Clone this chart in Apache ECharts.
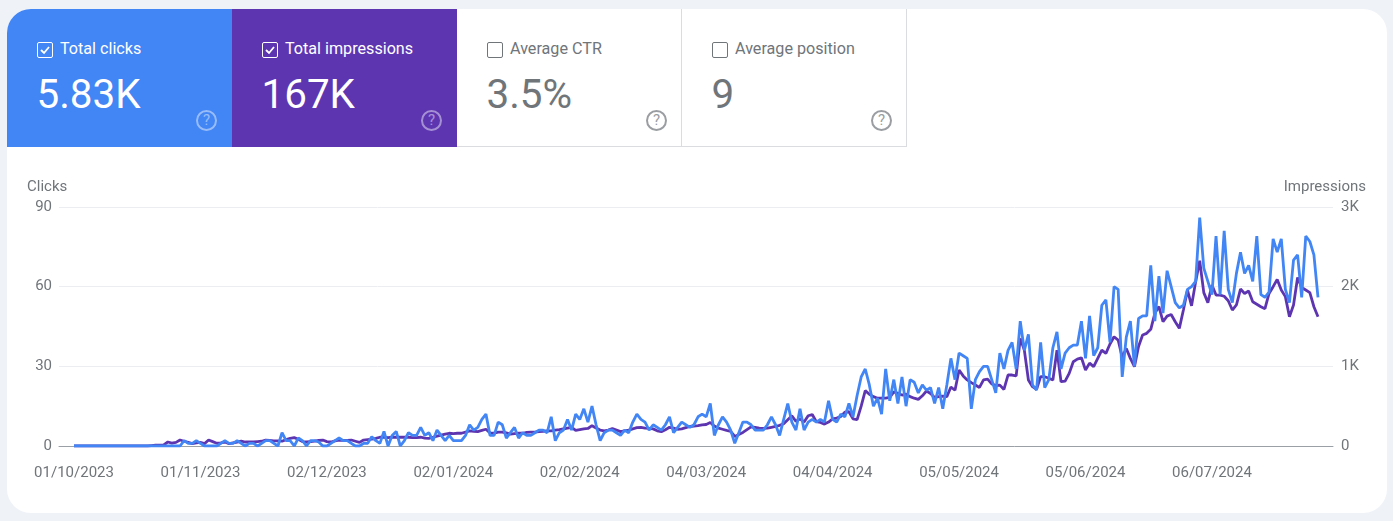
<!DOCTYPE html>
<html>
<head>
<meta charset="utf-8">
<title>Search performance</title>
<script src="https://cdn.jsdelivr.net/npm/echarts@6/dist/echarts.min.js"></script>
<style>
  html, body { margin: 0; padding: 0; width: 1393px; height: 521px; overflow: hidden; background: #eff3f8; font-family: Roboto, sans-serif; }
  #card { position: absolute; left: 7px; top: 9px; width: 1380px; height: 504px; background: #fff; border-radius: 24px; overflow: hidden; }
  #chart { position: absolute; left: 0; top: 0; width: 1393px; height: 521px; }
  .tile { position: absolute; top: 0; height: 138px; box-sizing: border-box; }
  .tile.off { color: #70757a; border-right: 1px solid #dadce0; border-bottom: 1px solid #dadce0; }
  .tile.on { color: #fff; }
  .box { position: absolute; left: 30px; top: 33px; width: 14px; height: 14px; border: 1px solid currentColor; border-radius: 2px; }
  .box svg { position: absolute; left: 0; top: 0; }
  .name { position: absolute; left: 53px; top: 30px; font-size: 16.15px; line-height: 19px; white-space: nowrap; }
  .value { position: absolute; left: 29.5px; top: 62px; font-size: 40.4px; line-height: 48px; }
  .help { position: absolute; left: 189px; top: 101px; width: 17px; height: 17px; border: 2px solid currentColor; border-radius: 50%; font-size: 15px; line-height: 17px; text-align: center; opacity: .7; }
  .on .help { opacity: .45; }
</style>
</head>
<body>
<div id="card">
  <div class="tile on" style="left:0;width:225px;background:#4285f4">
    <div class="box"><svg width="14" height="14"><path d="M3 7l3 3 5-6" fill="none" stroke="#fff" stroke-width="1.8"/></svg></div>
    <div class="name">Total clicks</div><div class="value">5.83K</div><div class="help">?</div>
  </div>
  <div class="tile on" style="left:225px;width:225px;background:#5e35b1">
    <div class="box"><svg width="14" height="14"><path d="M3 7l3 3 5-6" fill="none" stroke="#fff" stroke-width="1.8"/></svg></div>
    <div class="name">Total impressions</div><div class="value">167K</div><div class="help">?</div>
  </div>
  <div class="tile off" style="left:450px;width:225px">
    <div class="box"></div>
    <div class="name">Average CTR</div><div class="value">3.5%</div><div class="help">?</div>
  </div>
  <div class="tile off" style="left:675px;width:225px">
    <div class="box"></div>
    <div class="name">Average position</div><div class="value">9</div><div class="help">?</div>
  </div>
</div>
<div id="chart"></div>
<script>
// one value per day, first day is 01/10/2023
var clicks = [
  0, 0, 0, 0, 0, 0, 0, 0, 0, 0,
  0, 0, 0, 0, 0, 0, 0, 0, 0, 0,
  0, 0, 0, 0, 0, 0, 0, 2, 1, 1,
  2, 1, 0, 0, 0, 0, 1, 2, 1, 1,
  2, 1, 0, 1, 1, 0, 1, 2, 2, 1,
  0, 5, 2, 2, 0, 3, 2, 0, 2, 2,
  1.5, 0, 0, 1, 2, 3, 2, 2, 1, 0,
  0, 1, 1, 3.5, 2, 1, 5.5, 0, 4, 5.5,
  0, 2, 5, 4, 4, 7, 4, 5, 2, 6,
  4, 2, 4, 2, 2, 2, 4, 8, 6, 7,
  10, 12, 4, 4, 9, 8, 3, 5, 7, 3,
  5, 4, 4, 5, 6, 6, 5, 11, 2, 5,
  6, 10, 6, 12, 10, 14, 9, 15, 8, 2,
  5, 6, 6, 5, 4, 6, 5, 9, 12, 10,
  9, 6, 8, 7, 6, 8, 11, 5, 7, 9,
  8, 7, 8, 11, 12, 11, 16, 4, 8, 11,
  9, 6, 1, 5, 9, 9, 8, 6, 6, 6,
  8, 11, 8, 4, 10, 16, 9, 6, 14, 6,
  9, 10, 9, 10, 9, 17, 10, 9, 12, 11,
  16, 11, 19, 26, 29, 23, 15, 18, 12, 29,
  17, 25, 16, 26, 15, 25, 24, 20, 23, 21,
  22, 16, 22, 14, 23, 33, 25, 35, 34, 33,
  14, 25, 28, 30, 30, 25, 20, 35, 29, 36,
  39, 29, 47, 36, 42, 23, 21, 39, 22, 25,
  37, 43, 29, 35, 37, 38, 38, 47, 33, 49,
  34, 37, 53, 55, 39, 60, 59, 26, 41, 47,
  30, 48, 49, 49, 68, 47, 64, 50, 66, 60,
  54, 52, 53, 59, 60, 62, 86, 67, 62, 57,
  79, 57, 81, 59, 54, 65, 73, 65, 68, 62,
  79, 57, 56, 58, 78, 73, 78, 59, 54, 70,
  72, 56, 79, 77, 72, 56
]
var impressions = [
  0, 0, 0, 0, 0, 0, 0, 0, 0, 0,
  0, 0, 0, 0, 0, 0, 0, 0, 0, 5,
  10, 10, 15, 50, 35, 45, 75, 60, 45, 30,
  40, 45, 30, 75, 55, 35, 40, 50, 30, 40,
  50, 60, 50, 50, 50, 55, 60, 75, 70, 65,
  65, 60, 80, 95, 105, 85, 55, 50, 55, 60,
  70, 75, 55, 50, 65, 75, 70, 70, 75, 60,
  45, 75, 80, 85, 95, 110, 110, 105, 110, 110,
  110, 110, 110, 105, 105, 110, 100, 95, 110, 125,
  137, 150, 160, 155, 160, 160, 175, 190, 185, 180,
  195, 210, 165, 160, 175, 175, 165, 150, 155, 160,
  160, 170, 175, 175, 180, 185, 190, 190, 200, 205,
  215, 225, 235, 195, 205, 215, 220, 255, 225, 200,
  190, 200, 220, 200, 180, 190, 200, 215, 230, 235,
  225, 220, 215, 190, 180, 205, 235, 225, 210, 215,
  230, 245, 250, 255, 265, 270, 295, 250, 225, 210,
  195, 185, 120, 145, 170, 205, 240, 235, 225, 220,
  225, 235, 245, 260, 280, 330, 380, 310, 340, 300,
  380, 395, 305, 295, 275, 300, 340, 350, 370, 425,
  430, 340, 330, 500, 695, 650, 620, 600, 600, 600,
  610, 680, 660, 640, 650, 620, 600, 585, 630, 690,
  660, 610, 620, 625, 620, 740, 700, 955, 880, 830,
  795, 765, 735, 830, 840, 780, 760, 764, 710, 891,
  891, 880, 1350, 1204, 828, 745, 710, 870, 870, 850,
  828, 1204, 807, 815, 912, 1057, 1090, 1108, 954, 1040,
  996, 1100, 1204, 1162, 1280, 1371, 1330, 1112, 1225, 1100,
  996, 1250, 1393, 1414, 1464, 1665, 1750, 1560, 1630, 1650,
  1560, 1477, 1707, 1958, 1760, 2060, 2325, 1925, 1800, 2020,
  1895, 1895, 1880, 1823, 1707, 1770, 1970, 1915, 1945, 1810,
  1780, 1748, 1723, 1915, 2000, 2090, 1958, 1875, 1623, 1770,
  2115, 1990, 1958, 1925, 1748, 1623
]
var tickDays = [0, 31, 62, 93, 124, 155, 186, 217, 248, 279]
var tickLabels = ['01/10/2023', '01/11/2023', '02/12/2023', '02/01/2024', '02/02/2024', '04/03/2024', '04/04/2024', '05/05/2024', '05/06/2024', '06/07/2024']
var clickTicks = [0, 30, 60, 90]
var impressionTicks = ['0', '1K', '2K', '3K']

var textColor = '#70757a'
var chart = echarts.init(document.getElementById('chart'))

function withDay(list) {
  return list.map(function (v, i) { return [i, v] })
}

chart.setOption({
  animation: false,
  textStyle: { fontFamily: 'Roboto' },
  grid: { left: 59, right: 60, top: 207, height: 239 },
  xAxis: {
    type: 'value',
    min: -3.68,
    max: 308.68,
    splitLine: { show: false },
    axisTick: { show: false },
    axisLine: { lineStyle: { color: '#9aa0a6', width: 1 } },
    axisLabel: {
      customValues: tickDays,
      color: textColor,
      fontSize: 15,
      margin: 20,
      hideOverlap: false,
      formatter: function (v) { return tickLabels[tickDays.indexOf(v)] }
    }
  },
  yAxis: [{
    type: 'value',
    min: clickTicks[0],
    max: clickTicks[3],
    interval: 30,
    name: 'Clicks',
    nameGap: 12,
    nameTextStyle: { color: textColor, fontSize: 15, align: 'left', padding: [0, 0, 0, -47] },
    axisLine: { show: false },
    axisTick: { show: false },
    axisLabel: { color: textColor, fontSize: 15, margin: 7, padding: [2, 0, 0, 0] },
    splitLine: { lineStyle: { color: '#ebedf0', width: 1 } }
  }, {
    type: 'value',
    min: 0,
    max: 3000,
    interval: 1000,
    name: 'Impressions',
    nameGap: 12,
    nameTextStyle: { color: textColor, fontSize: 15, align: 'right', padding: [0, -33, 0, 0] },
    axisLine: { show: false },
    axisTick: { show: false },
    axisLabel: {
      color: textColor,
      fontSize: 15,
      margin: 8,
      padding: [2, 0, 0, 0],
      formatter: function (v) { return impressionTicks[v / 1000] }
    },
    splitLine: { show: false }
  }],
  series: [{
    name: 'Impressions',
    type: 'line',
    yAxisIndex: 1,
    data: withDay(impressions),
    symbol: 'none',
    lineStyle: { color: '#5e35b1', width: 2.8 },
    z: 2
  }, {
    name: 'Clicks',
    type: 'line',
    yAxisIndex: 0,
    data: withDay(clicks),
    symbol: 'none',
    lineStyle: { color: '#4285f4', width: 2.8 },
    z: 3
  }]
})
</script>
</body>
</html>
